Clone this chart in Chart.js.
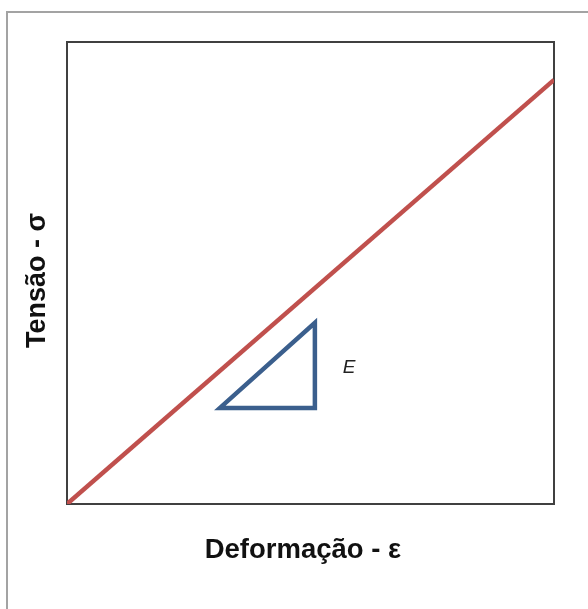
<!DOCTYPE html>
<html>
<head>
<meta charset="utf-8">
<script src="https://cdn.jsdelivr.net/npm/chart.js@4/dist/chart.umd.min.js"></script>
<style>
  html, body { margin: 0; padding: 0; background: #fff; overflow: hidden; }
  #frame { position: absolute; left: 6px; top: 11px; width: 620px; height: 640px; border: 2px solid #a3a3a3; }
  #wrap { position: absolute; left: 0; top: 0; width: 588px; height: 609px; }
</style>
</head>
<body>
<div id="frame"></div>
<div id="wrap"><canvas id="stressChart"></canvas></div>
<script>
// Axis titles
const xTitle = 'Deformação - ε';
const yTitle = 'Tensão - σ';

// Linear elastic line (strain vs stress, arbitrary units 0..100)
const strainValues = [0, 100];
const stressValues = [0, 91.8];

// Slope triangle showing the modulus E
const triangleX = [31.4, 50.9, 50.9, 31.4, 50.9];
const triangleY = [20.8, 20.8, 39.2, 20.8, 20.8];
const slopeLabel = 'E';
const slopeLabelX = 57.9;
const slopeLabelY = 29.4;

const toPoints = (xs, ys) => xs.map((x, i) => ({ x: x, y: ys[i] }));

// frame around the plot area + the "E" label
const framePlugin = {
    id: 'frame',
    beforeDatasetsDraw(chart) {
        const a = chart.chartArea;
        const ctx = chart.ctx;
        ctx.save();
        ctx.strokeStyle = '#404040';
        ctx.lineWidth = 2;
        ctx.strokeRect(a.left, a.top, a.right - a.left, a.bottom - a.top);
        ctx.restore();
    },
    afterDatasetsDraw(chart) {
        const ctx = chart.ctx;
        const px = chart.scales.x.getPixelForValue(slopeLabelX);
        const py = chart.scales.y.getPixelForValue(slopeLabelY);
        ctx.save();
        ctx.fillStyle = '#222';
        ctx.font = 'italic 19px "Liberation Sans", Arial, sans-serif';
        ctx.textAlign = 'center';
        ctx.textBaseline = 'middle';
        ctx.fillText(slopeLabel, px, py);
        ctx.restore();
    }
};

const ctx = document.getElementById('stressChart').getContext('2d');
const stressChart = new Chart(ctx, {
    type: 'line',
    data: {
        datasets: [{
            data: toPoints(strainValues, stressValues),
            borderColor: '#c0504d',
            borderWidth: 4.5,
            pointRadius: 0,
            fill: false
        }, {
            data: toPoints(triangleX, triangleY),
            borderColor: '#3b5f8d',
            borderWidth: 4.5,
            borderJoinStyle: 'miter',
            pointRadius: 0,
            fill: false
        }]
    },
    options: {
        responsive: true,
        maintainAspectRatio: false,
        animation: false,
        layout: {
            padding: { top: 42, right: 34, left: 0, bottom: 0 }
        },
        plugins: {
            legend: { display: false },
            tooltip: { enabled: false }
        },
        scales: {
            x: {
                type: 'linear',
                min: 0,
                max: 100,
                ticks: { display: false },
                grid: { display: false, drawTicks: false },
                border: { display: false },
                title: {
                    display: true,
                    text: xTitle + '  ',
                    color: '#111',
                    font: { family: '"Liberation Sans", Arial, sans-serif', size: 27.5, weight: 'bold' },
                    padding: { top: 30.4, bottom: 41.6 }
                }
            },
            y: {
                type: 'linear',
                min: 0,
                max: 100,
                ticks: { display: false },
                grid: { display: false, drawTicks: false },
                border: { display: false },
                title: {
                    display: true,
                    text: yTitle + '  ',
                    color: '#111',
                    font: { family: '"Liberation Sans", Arial, sans-serif', size: 27, weight: 'bold' },
                    padding: { top: 21, bottom: 13.6 }
                }
            }
        }
    },
    plugins: [framePlugin]
});
</script>
</body>
</html>
